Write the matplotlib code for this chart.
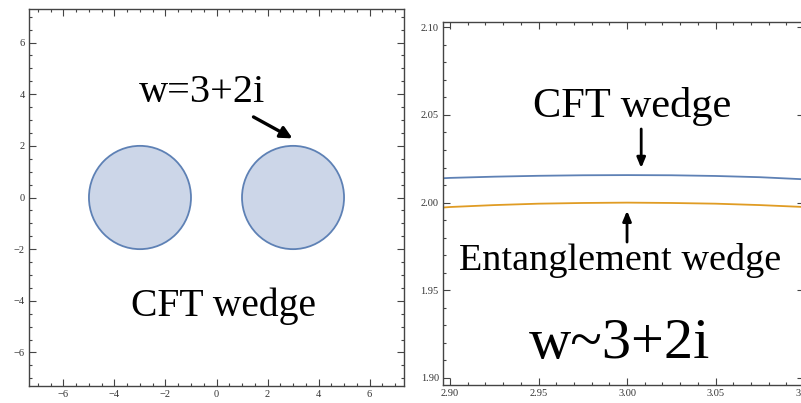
import matplotlib.pyplot as plt
from matplotlib.patches import Circle
from matplotlib.ticker import MultipleLocator

# disk centres and radius in the w-plane
disk_centers = [(-3.0, 0.0), (3.0, 0.0)]
disk_radius = 2.0

# zoom near the top of the right disk
zoom_x = [2.896, 2.90, 2.925, 2.95, 2.975, 3.00, 3.025, 3.05, 3.075, 3.10]
cft_edge = [2.0139, 2.0141, 2.0148, 2.0153, 2.0156, 2.0157, 2.0156, 2.0152, 2.0145, 2.0133]
ent_edge = [1.9972, 1.9975, 1.9986, 1.9994, 1.9998, 2.0000, 1.9998, 1.9994, 1.9986, 1.9975]

edge_blue = (0.368, 0.507, 0.710)
fill_blue = (0.80, 0.84, 0.91)
orange = (0.880, 0.611, 0.142)
frame_grey = "#444444"
serif = "Liberation Serif"

fig = plt.figure(figsize=(8.01, 4.03), dpi=100)
ax_l = fig.add_axes([29 / 801, 17 / 403, 375 / 801, 377 / 403])
ax_r = fig.add_axes([443 / 801, 18 / 403, 361 / 801, 363 / 403])


def style_frame(ax, major, minor):
    ax.xaxis.set_major_locator(MultipleLocator(major[0]))
    ax.xaxis.set_minor_locator(MultipleLocator(minor[0]))
    ax.yaxis.set_major_locator(MultipleLocator(major[1]))
    ax.yaxis.set_minor_locator(MultipleLocator(minor[1]))
    ax.tick_params(which="both", direction="in", top=True, right=True,
                   color=frame_grey, width=0.8)
    ax.tick_params(which="major", length=5, labelsize=7.5, labelcolor="#333333", pad=3)
    ax.tick_params(which="minor", length=2.5)
    for spine in ax.spines.values():
        spine.set_color(frame_grey)
        spine.set_linewidth(1.0)
    for lab in ax.get_xticklabels() + ax.get_yticklabels():
        lab.set_fontfamily(serif)


# left: the two CFT disks
ax_l.set_xlim(-7.35, 7.35)
ax_l.set_ylim(-7.3, 7.3)
for cx, cy in disk_centers:
    ax_l.add_patch(Circle((cx, cy), disk_radius, facecolor=fill_blue,
                          edgecolor=edge_blue, linewidth=1.3))
ax_l.text(-0.55, 3.68, "w=3+2i", family=serif, fontsize=29,
          ha="center", va="baseline")
ax_l.annotate("", xy=(2.98, 2.29), xytext=(1.45, 3.12),
              arrowprops=dict(arrowstyle="-|>,head_length=0.7,head_width=0.35",
                              color="black", lw=2.4, shrinkA=0, shrinkB=0))
ax_l.text(0.27, -4.57, "CFT wedge", family=serif, fontsize=28.5,
          ha="center", va="baseline")
style_frame(ax_l, (2, 2), (0.5, 0.5))
ax_l.xaxis.set_major_formatter(plt.FuncFormatter(lambda v, p: f"{v:.0f}".replace("-", "\u2212")))
ax_l.yaxis.set_major_formatter(plt.FuncFormatter(lambda v, p: f"{v:.0f}".replace("-", "\u2212")))

# right: close-up of the two boundaries
ax_r.set_xlim(2.896, 3.10)
ax_r.set_ylim(1.896, 2.103)
ax_r.plot(zoom_x, cft_edge, color=edge_blue, lw=1.3)
ax_r.plot(zoom_x, ent_edge, color=orange, lw=1.3)
ax_r.text(3.003, 2.0489, "CFT wedge", family=serif, fontsize=30.5,
          ha="center", va="baseline")
ax_r.annotate("", xy=(3.008, 2.0197), xytext=(3.008, 2.0420),
              arrowprops=dict(arrowstyle="-|>,head_length=0.6,head_width=0.25",
                              color="black", lw=2.0, shrinkA=0, shrinkB=0))
ax_r.annotate("", xy=(3.000, 1.9954), xytext=(3.000, 1.9775),
              arrowprops=dict(arrowstyle="-|>,head_length=0.6,head_width=0.25",
                              color="black", lw=2.0, shrinkA=0, shrinkB=0))
ax_r.text(2.996, 1.9617, "Entanglement wedge", family=serif, fontsize=27.5,
          ha="center", va="baseline")
ax_r.text(2.996, 1.9116, "w~3+2i", family=serif, fontsize=42,
          ha="center", va="baseline")
style_frame(ax_r, (0.05, 0.05), (0.01, 0.01))
ax_r.xaxis.set_major_formatter(plt.FuncFormatter(lambda v, p: f"{v:.2f}"))
ax_r.yaxis.set_major_formatter(plt.FuncFormatter(lambda v, p: f"{v:.2f}"))

fig.savefig("out.png", dpi=100)
